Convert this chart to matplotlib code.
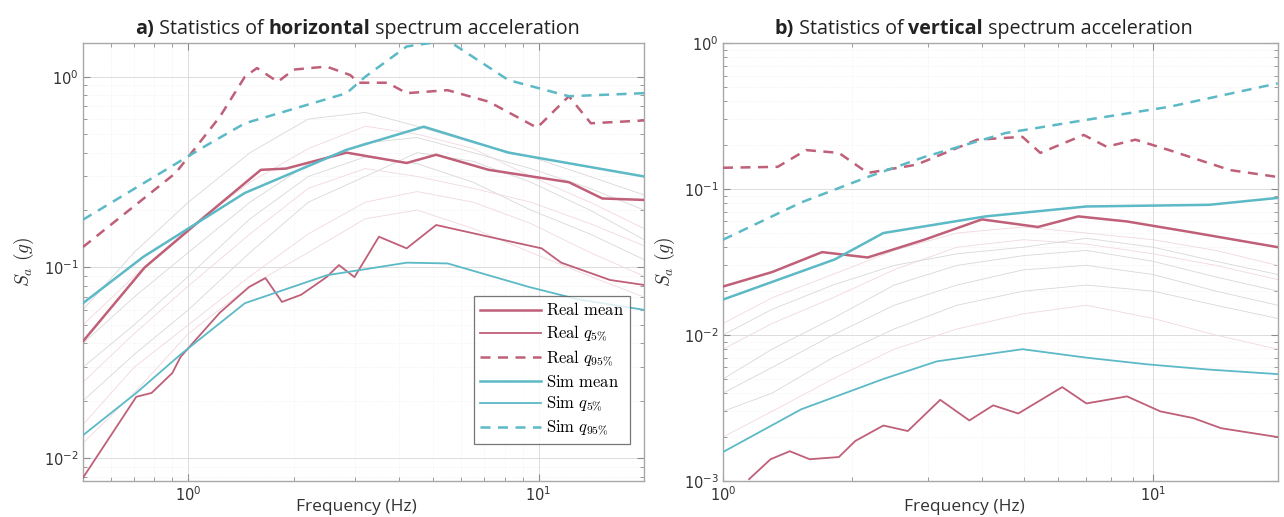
import numpy as np
import matplotlib
matplotlib.use('Agg')
import matplotlib.pyplot as plt
from matplotlib.text import Annotation
from matplotlib.ticker import LogLocator, NullFormatter

plt.rcParams['mathtext.fontset'] = 'cm'

# Colours of the two families of curves
RED = '#bf5f78'
TEAL = '#5cb9c6'

# ---- horizontal spectra (panel a) ----
f_h_real_mean = [0.5, 0.75, 1.11, 1.61, 1.9, 2.83, 4.2, 5.1, 7.2, 12.2, 15.2, 20]
h_real_mean = [0.041, 0.10, 0.184, 0.325, 0.33, 0.40, 0.353, 0.39, 0.325, 0.28, 0.23, 0.226]

f_h_real_q5 = [0.5, 0.71, 0.785, 0.9, 0.95, 1.23, 1.49, 1.66, 1.85, 2.1, 2.48, 2.69, 2.98,
               3.5, 4.2, 5.1, 7.2, 10.2, 11.6, 16, 20]
h_real_q5 = [0.0079, 0.021, 0.022, 0.028, 0.034, 0.058, 0.079, 0.088, 0.066, 0.072, 0.089,
             0.103, 0.089, 0.145, 0.126, 0.167, 0.145, 0.126, 0.106, 0.086, 0.081]

f_h_real_q95 = [0.5, 0.92, 1.23, 1.45, 1.57, 1.8, 2.0, 2.48, 2.9, 3.06, 3.7, 4.2, 5.5,
                7.2, 9.9, 12.2, 14.1, 20]
h_real_q95 = [0.128, 0.313, 0.617, 1.0, 1.11, 0.94, 1.09, 1.13, 1.02, 0.93, 0.93, 0.82,
              0.85, 0.74, 0.54, 0.79, 0.57, 0.59]

f_h_sim_mean = [0.5, 0.745, 1.45, 2.83, 4.7, 8.2, 20]
h_sim_mean = [0.065, 0.114, 0.246, 0.414, 0.547, 0.40, 0.30]

f_h_sim_q5 = [0.5, 0.71, 0.95, 1.45, 2.48, 4.2, 5.5, 9.4, 13, 20]
h_sim_q5 = [0.0132, 0.022, 0.035, 0.065, 0.091, 0.106, 0.105, 0.079, 0.068, 0.06]

f_h_sim_q95 = [0.5, 1.11, 1.45, 2.83, 3.2, 4.2, 5.5, 8.2, 12.2, 20]
h_sim_q95 = [0.178, 0.43, 0.57, 0.82, 1.0, 1.44, 1.55, 0.96, 0.79, 0.82]

# individual records behind the statistics
f_h_records = [0.5, 0.7, 1.0, 1.5, 2.2, 3.2, 4.5, 6.5, 9.5, 14, 20]
h_records = [
    [0.03, 0.05, 0.09, 0.18, 0.30, 0.38, 0.35, 0.28, 0.20, 0.15, 0.11],
    [0.05, 0.09, 0.16, 0.28, 0.42, 0.55, 0.50, 0.42, 0.30, 0.22, 0.16],
    [0.02, 0.035, 0.06, 0.12, 0.22, 0.30, 0.40, 0.36, 0.28, 0.20, 0.14],
    [0.015, 0.03, 0.05, 0.09, 0.15, 0.22, 0.25, 0.22, 0.17, 0.12, 0.09],
    [0.06, 0.12, 0.22, 0.40, 0.60, 0.65, 0.55, 0.45, 0.38, 0.30, 0.24],
    [0.012, 0.022, 0.045, 0.08, 0.12, 0.18, 0.20, 0.16, 0.12, 0.09, 0.07],
    [0.04, 0.07, 0.12, 0.22, 0.35, 0.45, 0.48, 0.40, 0.33, 0.26, 0.20],
    [0.025, 0.045, 0.08, 0.15, 0.26, 0.33, 0.30, 0.26, 0.22, 0.17, 0.13],
]

# ---- vertical spectra (panel b) ----
f_v_real_mean = [1.0, 1.3, 1.7, 2.17, 2.94, 4.0, 5.4, 6.7, 8.7, 12.1, 19.5]
v_real_mean = [0.0215, 0.027, 0.037, 0.034, 0.045, 0.062, 0.055, 0.065, 0.06, 0.051, 0.04]

f_v_real_q5 = [1.15, 1.29, 1.43, 1.59, 1.86, 2.03, 2.36, 2.69, 3.2, 3.74, 4.25, 4.86,
               6.15, 7.0, 8.7, 10.4, 12.4, 14.4, 19.5]
v_real_q5 = [0.00103, 0.00141, 0.0016, 0.00141, 0.00146, 0.00188, 0.0024, 0.0022, 0.0036,
             0.0026, 0.0033, 0.0029, 0.0044, 0.0034, 0.0038, 0.003, 0.0027, 0.0023, 0.002]

f_v_real_q95 = [1.0, 1.34, 1.56, 1.86, 2.17, 2.82, 3.9, 4.97, 5.47, 6.9, 7.8, 9.1, 10.9,
                15.1, 19.5]
v_real_q95 = [0.14, 0.142, 0.185, 0.177, 0.129, 0.147, 0.218, 0.228, 0.177, 0.235, 0.195,
              0.218, 0.185, 0.135, 0.121]

f_v_sim_mean = [1.0, 1.82, 2.36, 4.08, 7.0, 13.5, 19.5]
v_sim_mean = [0.0175, 0.033, 0.05, 0.065, 0.076, 0.078, 0.087]

f_v_sim_q5 = [1.0, 1.52, 2.36, 3.14, 4.97, 7.0, 9.7, 13.5, 19.5]
v_sim_q5 = [0.00158, 0.0031, 0.005, 0.0066, 0.008, 0.007, 0.0063, 0.0058, 0.0054]

f_v_sim_q95 = [1.0, 1.52, 2.17, 2.94, 4.54, 7.0, 10.9, 19.5]
v_sim_q95 = [0.045, 0.081, 0.121, 0.166, 0.242, 0.298, 0.366, 0.53]

f_v_records = [1.0, 1.3, 1.8, 2.5, 3.5, 5, 7, 10, 14, 19.5]
v_records = [
    [0.004, 0.006, 0.010, 0.016, 0.022, 0.028, 0.030, 0.026, 0.020, 0.016],
    [0.008, 0.012, 0.018, 0.028, 0.040, 0.045, 0.042, 0.036, 0.030, 0.024],
    [0.003, 0.004, 0.007, 0.011, 0.016, 0.020, 0.022, 0.020, 0.016, 0.013],
    [0.012, 0.018, 0.026, 0.038, 0.050, 0.055, 0.050, 0.045, 0.038, 0.030],
    [0.005, 0.008, 0.013, 0.022, 0.030, 0.035, 0.038, 0.032, 0.025, 0.020],
    [0.002, 0.003, 0.005, 0.008, 0.011, 0.014, 0.016, 0.013, 0.010, 0.008],
    [0.010, 0.015, 0.022, 0.030, 0.036, 0.040, 0.046, 0.040, 0.032, 0.026],
]

legend_labels = [r'$\mathrm{Real\ mean}$', r'$\mathrm{Real}\ q_{5\%}$', r'$\mathrm{Real}\ q_{95\%}$',
                 r'$\mathrm{Sim\ mean}$', r'$\mathrm{Sim}\ q_{5\%}$', r'$\mathrm{Sim}\ q_{95\%}$']

fig = plt.figure(figsize=(12.84, 5.17), dpi=100)
ax1 = fig.add_axes([0.0646, 0.0696, 0.437, 0.847])
ax2 = fig.add_axes([0.5631, 0.0696, 0.432, 0.847])


def style_axes(ax, xlim, ylim, xlab_x):
    ax.set_xscale('log')
    ax.set_yscale('log')
    ax.set_xlim(*xlim)
    ax.set_ylim(*ylim)
    ax.xaxis.set_major_locator(LogLocator(base=10, numticks=10))
    ax.yaxis.set_major_locator(LogLocator(base=10, numticks=10))
    ax.xaxis.set_minor_locator(LogLocator(base=10, subs=np.arange(2, 10), numticks=20))
    ax.yaxis.set_minor_locator(LogLocator(base=10, subs=np.arange(2, 10), numticks=20))
    ax.xaxis.set_minor_formatter(NullFormatter())
    ax.yaxis.set_minor_formatter(NullFormatter())
    ax.grid(True, which='major', color='#dcdcdc', lw=0.7)
    ax.grid(True, which='minor', color='#ececec', lw=0.5, ls=':')
    ax.set_axisbelow(True)
    for s in ax.spines.values():
        s.set_color('#a8a8a8')
        s.set_linewidth(1.0)
    ax.tick_params(which='both', direction='in', top=True, right=True, colors='#8a8a8a',
                   labelcolor='#333333', labelsize=10.5, pad=3)
    ax.tick_params(which='major', length=5)
    ax.tick_params(which='minor', length=3)
    ax.set_xlabel('Frequency (Hz)', family='Open Sans', fontsize=12.5, color='#333333')
    ax.set_ylabel(r'$S_a\ (g)$', fontsize=14, color='#333333')
    ax.xaxis.set_label_coords(xlab_x, -0.04, transform=ax.transAxes)
    ax.yaxis.set_label_coords(-0.083, 0.5, transform=ax.transAxes)
    ax.xaxis.label.set_va('top')


def draw_stats(ax, fr, recs, series):
    for i, r in enumerate(recs):
        ax.plot(fr, r, color='#d8d8d8' if i % 2 == 0 else '#f0d8de', lw=0.6, zorder=1)
    lines = []
    for (f, v), (c, lw, ls) in zip(series, [(RED, 1.8, '-'), (RED, 1.3, '-'), (RED, 1.8, '--'),
                                            (TEAL, 1.8, '-'), (TEAL, 1.3, '-'), (TEAL, 1.8, '--')]):
        ln, = ax.plot(f, v, color=c, lw=lw, ls=ls, dashes=(4, 3) if ls == '--' else (None, None),
                      zorder=3)
        lines.append(ln)
    return lines


style_axes(ax1, (0.5, 20), (0.0076, 1.5), 0.488)
lines = draw_stats(ax1, f_h_records, h_records, [
    (f_h_real_mean, h_real_mean), (f_h_real_q5, h_real_q5), (f_h_real_q95, h_real_q95),
    (f_h_sim_mean, h_sim_mean), (f_h_sim_q5, h_sim_q5), (f_h_sim_q95, h_sim_q95)])
leg = ax1.legend(lines, legend_labels, loc='lower right', bbox_to_anchor=(0.975, 0.085),
                 fontsize=12, frameon=True, fancybox=False, handlelength=3.7,
                 labelspacing=0.25, borderpad=0.35, handletextpad=0.3, borderaxespad=0)
leg.get_frame().set_edgecolor('#555555')
leg.get_frame().set_linewidth(0.9)

style_axes(ax2, (1, 19.5), (0.001, 1.0), 0.436)
draw_stats(ax2, f_v_records, v_records, [
    (f_v_real_mean, v_real_mean), (f_v_real_q5, v_real_q5), (f_v_real_q95, v_real_q95),
    (f_v_sim_mean, v_sim_mean), (f_v_sim_q5, v_sim_q5), (f_v_sim_q95, v_sim_q95)])


def chain_title(x, y, parts):
    # title with mixed bold/regular pieces, each placed right after the previous one
    last = None
    for txt, w in parts:
        kw = dict(fontsize=14.2, family='Open Sans', weight=w, color='#222222',
                  va='bottom', ha='left')
        if last is None:
            last = fig.text(x, y, txt, **kw)
        else:
            last = fig.add_artist(Annotation(txt, xy=(1, 0), xycoords=last, **kw))


chain_title(0.105, 0.925, [('a)', 'bold'), (' Statistics of ', 'normal'), ('horizontal', 'bold'),
                           (' spectrum acceleration', 'normal')])
chain_title(0.603, 0.925, [('b)', 'bold'), (' Statistics of ', 'normal'), ('vertical', 'bold'),
                           (' spectrum acceleration', 'normal')])

fig.savefig('out.png', dpi=100)
